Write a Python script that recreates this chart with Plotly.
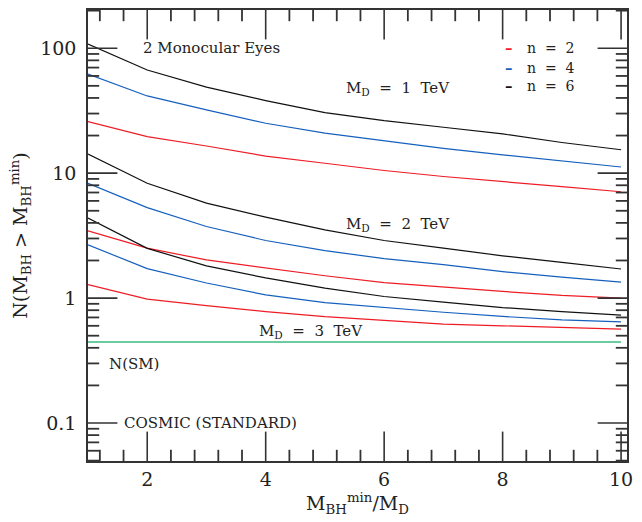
import plotly.graph_objects as go

x_vals = [1, 2, 3, 4, 5, 6, 7, 8, 9, 10]

md1_n2 = [25.9, 19.6, 16.5, 13.7, 12.0, 10.5, 9.4, 8.6, 7.8, 7.1]
md1_n4 = [62, 41.5, 32.1, 25.1, 20.9, 18.1, 15.8, 14.0, 12.5, 11.2]
md1_n6 = [108, 67, 48.8, 38.1, 30.5, 26.3, 23.3, 20.6, 17.6, 15.4]

md2_n2 = [3.45, 2.51, 2.02, 1.74, 1.51, 1.33, 1.22, 1.13, 1.05, 1.0]
md2_n4 = [8.3, 5.3, 3.74, 2.89, 2.40, 2.07, 1.85, 1.63, 1.47, 1.34]
md2_n6 = [14.2, 8.3, 5.75, 4.45, 3.52, 2.89, 2.51, 2.18, 1.93, 1.71]

md3_n2 = [1.28, 0.98, 0.87, 0.78, 0.71, 0.66, 0.62, 0.60, 0.58, 0.565]
md3_n4 = [2.67, 1.72, 1.32, 1.06, 0.92, 0.84, 0.77, 0.713, 0.67, 0.645]
md3_n6 = [4.37, 2.5, 1.81, 1.45, 1.2, 1.03, 0.93, 0.84, 0.78, 0.73]

sm_level = 0.445
sm_x = [1, 10]

n_labels = ["n = 2", "n = 4", "n = 6"]
colors = ["#ee1c25", "#1560bd", "#111111"]
sm_color = "#3dbb7f"

# axis ticks
y_tickvals = [0.1, 1, 10, 100]
y_ticktext = ["0.1", "1", "10", "100"]
x_tickvals = [2, 4, 6, 8, 10]
x_minor_step = 0.4
y_minor_digits = [2, 3, 4, 5, 6, 7, 8, 9]
y_decades = [0.01, 0.1, 1, 10, 100]

X_RANGE = [1, 10.1]
Y_RANGE = [-1.304, 2.306]

FONT = "DejaVu Serif"
AX = "#333333"
TICK = "#333333"
MAJOR_LEN = 21
MINOR_LEN = 8

fig = go.Figure()

groups = [
    [md1_n2, md1_n4, md1_n6],
    [md2_n2, md2_n4, md2_n6],
    [md3_n2, md3_n4, md3_n6],
]
for gi, grp in enumerate(groups):
    for si, ys in enumerate(grp):
        fig.add_trace(go.Scatter(
            x=x_vals, y=ys, mode="lines",
            line=dict(color=colors[si], width=1.2),
            name=n_labels[si], showlegend=False,
        ))

fig.add_trace(go.Scatter(
    x=sm_x, y=[sm_level, sm_level], mode="lines",
    line=dict(color=sm_color, width=1.6), name="N(SM)", showlegend=False,
))

fig.update_xaxes(
    range=X_RANGE, tickmode="array", tickvals=x_tickvals,
    showline=True, linecolor=AX, linewidth=1.5, mirror=True,
    ticks="", showgrid=False, zeroline=False, automargin=False,
    tickfont=dict(family=FONT, size=19, color="#222222"),
    title=dict(text="M<sub>BH</sub><sup>min</sup>/M<sub>D</sub>",
               font=dict(family=FONT, size=19, color="#222222"), standoff=8),
)

fig.update_yaxes(
    type="log", range=Y_RANGE,
    tickmode="array", tickvals=y_tickvals, ticktext=y_ticktext,
    showline=True, linecolor=AX, linewidth=1.5, mirror=True,
    ticks="", showgrid=False, zeroline=False, automargin=False,
    tickfont=dict(family=FONT, size=19, color="#222222"),
    title=dict(text="N(M<sub>BH</sub> > M<sub>BH</sub><sup>min</sup>)",
               font=dict(family=FONT, size=19, color="#222222"), standoff=8),
    ticklabelstandoff=6,
)

# tick positions derived from the axis tick settings
x_minor = []
k = 1
while k * x_minor_step <= X_RANGE[1] + 1e-9:
    v = round(k * x_minor_step, 6)
    if v > X_RANGE[0] and all(abs(v - t) > 1e-6 for t in x_tickvals):
        x_minor.append(v)
    k += 1
y_lo, y_hi = 10 ** Y_RANGE[0], 10 ** Y_RANGE[1]
y_minor = [d * m for d in y_decades for m in y_minor_digits if y_lo < d * m < y_hi]

# inside ticks on all four sides: line glyphs centred on the frame, half clipped
def edge_ticks(xs, ys, symbol, size, width):
    fig.add_trace(go.Scatter(
        x=xs, y=ys, mode="markers", showlegend=False, hoverinfo="skip",
        cliponaxis=True,
        marker=dict(symbol=symbol, size=size,
                    line=dict(color=TICK, width=width), color=TICK),
    ))

x_lo, x_hi = X_RANGE
for vals, length, w in ((x_tickvals, MAJOR_LEN, 1.6), (x_minor, MINOR_LEN, 1.8)):
    edge_ticks(vals, [y_lo] * len(vals), "line-ns", 2 * length, w)
    edge_ticks(vals, [y_hi] * len(vals), "line-ns", 2 * length, w)
for vals, length, w in ((y_tickvals, MAJOR_LEN, 1.6), (y_minor, MINOR_LEN, 1.8)):
    edge_ticks([x_lo] * len(vals), vals, "line-ew", 2 * length, w)
    edge_ticks([x_hi] * len(vals), vals, "line-ew", 2 * length, w)

tfont = dict(family=FONT, size=15, color="#222222")
annots = [
    ("2 Monocular Eyes", 3.08, 2.0),
    ("M<sub>D</sub>  =  1  TeV", 6.24, 1.68),
    ("M<sub>D</sub>  =  2  TeV", 6.24, 0.59),
    ("M<sub>D</sub>  =  3  TeV", 4.76, -0.265),
    ("N(SM)", 1.77, -0.526),
    ("COSMIC (STANDARD)", 3.06, -1.0),
]
for txt, ax_, ay_ in annots:
    fig.add_annotation(x=ax_, y=ay_, xref="x", yref="y", text=txt,
                       showarrow=False, font=tfont,
                       xanchor="center", yanchor="middle")

leg_y = [2.0, 1.845, 1.698]
for i, lab in enumerate(n_labels):
    fig.add_annotation(x=8.1, y=leg_y[i], xref="x", yref="y",
                       text="<b>–</b>", showarrow=False,
                       font=dict(family=FONT, size=15, color=colors[i]),
                       xanchor="center", yanchor="middle")
    fig.add_annotation(x=8.37, y=leg_y[i], xref="x", yref="y",
                       text=lab.replace(" = ", "  =  "),
                       showarrow=False,
                       font=dict(family=FONT, size=14, color="#222222"),
                       xanchor="left", yanchor="middle")

fig.update_layout(
    width=642, height=522,
    margin=dict(l=88, r=15, t=10, b=61),
    paper_bgcolor="white", plot_bgcolor="white",
    showlegend=False,
)

fig.write_html(
    "out.html",
    config={"displayModeBar": False},
    post_script="document.body.style.margin='0';document.body.style.padding='0';",
)
